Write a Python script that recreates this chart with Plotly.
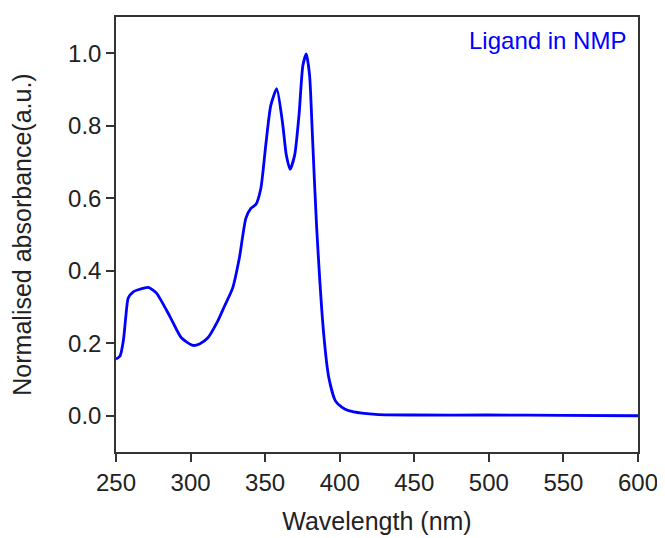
import plotly.graph_objects as go

wavelength = [250, 252.7, 254.9, 256.5, 258.2, 261.6, 266, 271.6, 277, 286, 293.8, 301.6,
              306, 311.6, 318.2, 322.7, 328.2, 332.7, 337.1, 340.4, 343.8, 347.1, 350.4,
              353.8, 357.8, 361.6, 364.2, 366.7, 369.8, 372.7, 375.3, 377.6, 379.8, 381.6,
              384.4, 389.3, 392.7, 397.1, 401.6, 406, 414.9, 426, 450, 500,
              550, 600]
absorbance = [0.156, 0.165, 0.206, 0.27, 0.325, 0.342, 0.349, 0.354, 0.339, 0.275, 0.215, 0.194,
              0.198, 0.215, 0.261, 0.302, 0.352, 0.435, 0.545, 0.572, 0.583, 0.627, 0.746,
              0.856, 0.902, 0.810, 0.719, 0.680, 0.719, 0.829, 0.966, 0.998, 0.939, 0.783,
              0.53, 0.224, 0.105, 0.041, 0.023, 0.014, 0.007, 0.003, 0.002, 0.002,
              0.001, 0.0]

x_ticks = [250, 300, 350, 400, 450, 500, 550, 600]
y_ticks = [0.0, 0.2, 0.4, 0.6, 0.8, 1.0]
y_tick_labels = ["0.0", "0.2", "0.4", "0.6", "0.8", "1.0"]

font_family = "Arial, Liberation Sans, sans-serif"

fig = go.Figure()
fig.add_trace(go.Scatter(
    x=wavelength, y=absorbance, mode="lines",
    line=dict(color="#0000ff", width=2.8, shape="spline", smoothing=0.6),
    showlegend=False,
))

axis_common = dict(
    showline=True, linecolor="#333333", linewidth=1.5, mirror=True,
    ticks="outside", ticklen=8, tickwidth=1.5, tickcolor="#333333",
    showgrid=False, zeroline=False,
    tickfont=dict(family=font_family, size=24, color="#222222"),
)

fig.update_layout(
    width=657, height=530,
    margin=dict(l=108, r=25, t=7, b=86),
    paper_bgcolor="white", plot_bgcolor="white",
    xaxis=dict(range=[250, 600], tickvals=x_ticks,
               title=dict(text="Wavelength (nm)", font=dict(family=font_family, size=25, color="#222222"), standoff=18),
               **axis_common),
    yaxis=dict(range=[-0.1, 1.1], tickvals=y_ticks, ticktext=y_tick_labels,
               title=dict(text="Normalised absorbance(a.u.)", font=dict(family=font_family, size=25, color="#222222"), standoff=30),
               **axis_common),
    annotations=[dict(
        x=0.98, y=0.947, xref="paper", yref="paper", xanchor="right", yanchor="middle",
        text="Ligand in NMP", showarrow=False,
        font=dict(family=font_family, size=24, color="#0000ff"),
    )],
)

fig.write_html("out.html")
